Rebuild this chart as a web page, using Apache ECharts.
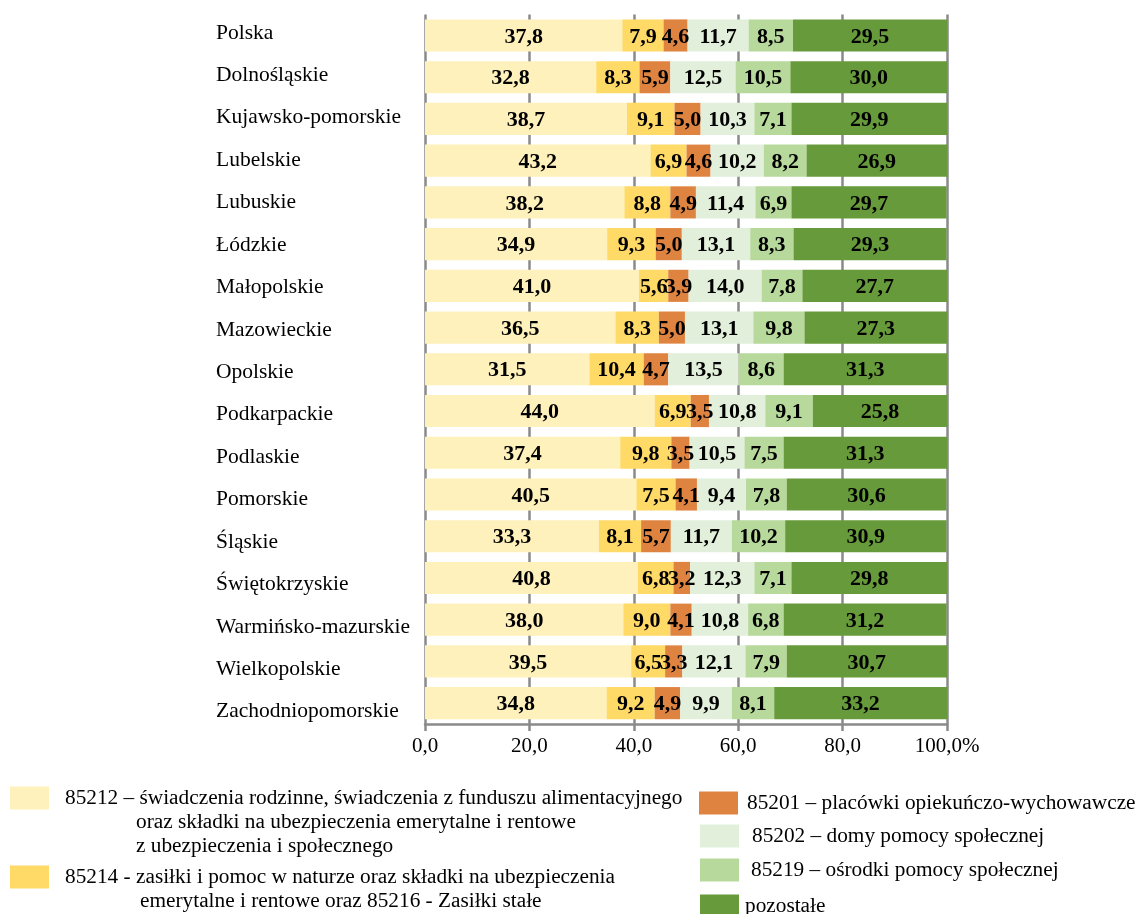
<!DOCTYPE html>
<html>
<head>
<meta charset="utf-8">
<script src="https://cdn.jsdelivr.net/npm/echarts@6/dist/echarts.min.js"></script>
<style>html,body{margin:0;padding:0;background:#fff;}#c{width:1139px;height:914px;}</style>
</head>
<body>
<div id="c"></div>
<script>
const categories = ['Polska','Dolnośląskie','Kujawsko-pomorskie','Lubelskie','Lubuskie','Łódzkie','Małopolskie','Mazowieckie','Opolskie','Podkarpackie','Podlaskie','Pomorskie','Śląskie','Świętokrzyskie','Warmińsko-mazurskie','Wielkopolskie','Zachodniopomorskie'];
const s85212 = [37.8,32.8,38.7,43.2,38.2,34.9,41.0,36.5,31.5,44.0,37.4,40.5,33.3,40.8,38.0,39.5,34.8];
const s85214 = [7.9,8.3,9.1,6.9,8.8,9.3,5.6,8.3,10.4,6.9,9.8,7.5,8.1,6.8,9.0,6.5,9.2];
const s85201 = [4.6,5.9,5.0,4.6,4.9,5.0,3.9,5.0,4.7,3.5,3.5,4.1,5.7,3.2,4.1,3.3,4.9];
const s85202 = [11.7,12.5,10.3,10.2,11.4,13.1,14.0,13.1,13.5,10.8,10.5,9.4,11.7,12.3,10.8,12.1,9.9];
const s85219 = [8.5,10.5,7.1,8.2,6.9,8.3,7.8,9.8,8.6,9.1,7.5,7.8,10.2,7.1,6.8,7.9,8.1];
const sPozostale = [29.5,30.0,29.9,26.9,29.7,29.3,27.7,27.3,31.3,25.8,31.3,30.6,30.9,29.8,31.2,30.7,33.2];
const xTicks = ['0,0','20,0','40,0','60,0','80,0','100,0%'];

const names = [
  '85212 – świadczenia rodzinne, świadczenia z funduszu alimentacyjnego',
  '85214 - zasiłki i pomoc w naturze oraz składki na ubezpieczenia',
  '85201 – placówki opiekuńczo-wychowawcze',
  '85202 – domy pomocy społecznej',
  '85219 – ośrodki pomocy społecznej',
  'pozostałe'
];
const colors = ['#FEF1BB','#FFDA66','#DF8440','#E2EFDA','#B7D99C','#679A3A'];
const seriesData = [s85212, s85214, s85201, s85202, s85219, sPozostale];

const FONT = '"Liberation Serif","Times New Roman",serif';

const series = seriesData.map((d, i) => ({
  name: names[i],
  type: 'bar',
  stack: 'all',
  data: d,
  barCategoryGap: '23%',
  itemStyle: { color: colors[i] },
  label: {
    show: true,
    position: 'inside',
    offset: [0, 1.5],
    color: '#000',
    fontFamily: FONT,
    fontWeight: 'bold',
    fontSize: 22,
    formatter: p => p.value.toFixed(1).replace('.', ',')
  }
}));

const baseText = { fontFamily: FONT, fontSize: 21.3, color: '#000', lineHeight: 24 };
function mkLegend(i, left, top, padding, formatter, extraRich) {
  const l = {
    show: true,
    data: [{ name: names[i], icon: 'rect' }],
    left: left,
    top: top,
    orient: 'vertical',
    itemWidth: 39,
    itemHeight: 23,
    selectedMode: false,
    padding: 0,
    itemStyle: { borderWidth: 0 },
    textStyle: Object.assign({}, baseText, { padding: padding, rich: { c: Object.assign({}, baseText, extraRich || {}) } })
  };
  if (formatter) l.formatter = formatter;
  return l;
}

const legends = [
  mkLegend(0, 10, 738, [48, 0, 0, 11], () => names[0] + '\n{c|oraz składki na ubezpieczenia emerytalne i rentowe}\n{c|z ubezpieczenia i społecznego}', { padding: [0, 0, 0, 71] }),
  mkLegend(1, 10, 841, [24, 0, 0, 11], () => names[1] + '\n{c|emerytalne i rentowe oraz 85216 - Zasiłki stałe}', { padding: [0, 0, 0, 75] }),
  mkLegend(2, 699, 791, [0, 0, 0, 4]),
  mkLegend(3, 700, 824, [0, 0, 0, 8]),
  mkLegend(4, 700, 858, [0, 0, 0, 7]),
  mkLegend(5, 700, 894, [0, 0, 0, 1])
];

const chart = echarts.init(document.getElementById('c'), null, { renderer: 'canvas' });
chart.setOption({
  animation: false,
  backgroundColor: '#fff',
  legend: legends,
  grid: [
    { left: 425, right: 192, top: 14.6, bottom: 190, containLabel: false },
    { left: 425, right: 192, top: 11.8, bottom: 181, containLabel: false }
  ],
  xAxis: [{
    type: 'value',
    gridIndex: 0,
    min: 0,
    max: 100,
    interval: 20,
    axisLine: { show: true, lineStyle: { color: '#8a8a8a', width: 2.5 } },
    axisTick: { show: true, length: 7, lineStyle: { color: '#8a8a8a', width: 2.5 } },
    splitLine: { show: true, lineStyle: { color: '#8a8a8a', width: 2.5 } },
    axisLabel: {
      margin: 12,
      fontFamily: FONT,
      fontSize: 21,
      color: '#000',
      formatter: v => xTicks[Math.round(v / 20)]
    }
  }, {
    type: 'value',
    gridIndex: 1,
    min: 0,
    max: 100,
    show: false
  }],
  yAxis: [{
    type: 'category',
    gridIndex: 0,
    inverse: true,
    data: categories,
    axisLine: { show: false },
    axisTick: { show: false },
    axisLabel: { show: false }
  }, {
    type: 'category',
    gridIndex: 1,
    inverse: true,
    data: categories,
    axisLine: { show: false },
    axisTick: { show: false },
    splitLine: { show: false },
    axisLabel: {
      align: 'left',
      margin: 209,
      fontFamily: FONT,
      fontSize: 21.5,
      color: '#000'
    }
  }],
  series: series
});
</script>
</body>
</html>
